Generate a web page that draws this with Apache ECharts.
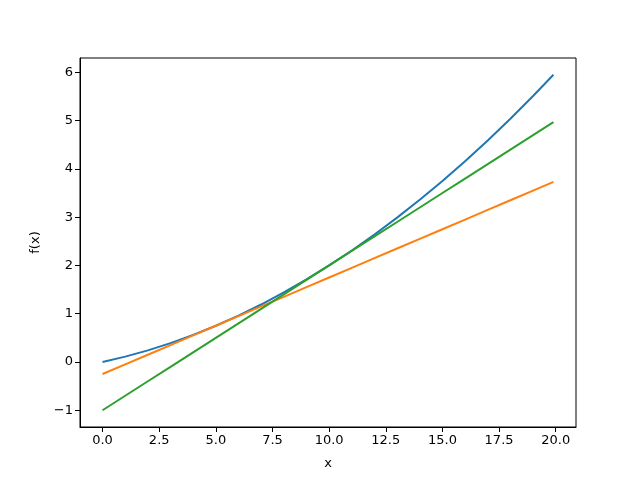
<!DOCTYPE html>
<html>
<head>
<meta charset="utf-8">
<script src="https://cdn.jsdelivr.net/npm/echarts@6/dist/echarts.min.js"></script>
<style>
  html, body { margin: 0; padding: 0; background: #fff; }
  #chart { width: 640px; height: 480px; }
</style>
</head>
<body>
<div id="chart"></div>
<script>
// values
var xs = [0, 1, 2, 3, 4, 5, 6, 7, 8, 9, 10, 11, 12, 13, 14, 15, 16, 17, 18, 19, 19.9];
var curve = [0, 0.11, 0.24, 0.39, 0.56, 0.75, 0.96, 1.19, 1.44, 1.71, 2.0, 2.31, 2.64, 2.99, 3.36, 3.75, 4.16, 4.59, 5.04, 5.51, 5.95];
var tangentAt5 = [-0.25, -0.05, 0.15, 0.35, 0.55, 0.75, 0.95, 1.15, 1.35, 1.55, 1.75, 1.95, 2.15, 2.35, 2.55, 2.75, 2.95, 3.15, 3.35, 3.55, 3.73];
var tangentAt10 = [-1, -0.7, -0.4, -0.1, 0.2, 0.5, 0.8, 1.1, 1.4, 1.7, 2.0, 2.3, 2.6, 2.9, 3.2, 3.5, 3.8, 4.1, 4.4, 4.7, 4.97];
var xTicks = [0, 2.5, 5, 7.5, 10, 12.5, 15, 17.5, 20];
var yTicks = [-1, 0, 1, 2, 3, 4, 5, 6];

function pairs(ys) {
    return xs.map(function (x, i) { return [x, ys[i]]; });
}

var chart = echarts.init(document.getElementById('chart'));
var font = 'DejaVu Sans';

function line(data, color) {
    return {
        type: 'line',
        data: pairs(data),
        showSymbol: false,
        smooth: false,
        lineStyle: { color: color, width: 2 },
        itemStyle: { color: color }
    };
}

var option = {
    animation: false,
    grid: {
        left: 80, right: 64, top: 58, bottom: 53,
        show: true, borderColor: '#000', borderWidth: 1
    },
    xAxis: {
        type: 'value',
        min: -0.995,
        max: 20.895,
        name: 'x',
        nameLocation: 'middle',
        nameGap: 30,
        nameTextStyle: { fontFamily: font, fontSize: 13, color: '#000' },
        splitLine: { show: false },
        axisLine: { show: true, onZero: false, lineStyle: { color: '#000' } },
        axisTick: { show: true, length: 5, customValues: xTicks, lineStyle: { color: '#000' } },
        axisLabel: {
            customValues: xTicks,
            fontFamily: font, fontSize: 13, color: '#000', margin: 7,
            formatter: function (v) { return v.toFixed(1); }
        }
    },
    yAxis: {
        type: 'value',
        min: -1.3475,
        max: 6.2975,
        name: 'f(x)',
        nameLocation: 'middle',
        nameGap: 38,
        nameTextStyle: { fontFamily: font, fontSize: 13, color: '#000' },
        splitLine: { show: false },
        axisLine: { show: true, onZero: false, lineStyle: { color: '#000' } },
        axisTick: { show: true, length: 5, customValues: yTicks, lineStyle: { color: '#000' } },
        axisLabel: {
            customValues: yTicks,
            fontFamily: font, fontSize: 13, color: '#000', margin: 7,
            formatter: function (v) { return v < 0 ? '\u2212' + Math.abs(v) : String(v); }
        }
    },
    series: [
        line(curve, '#1f77b4'),
        line(tangentAt5, '#ff7f0e'),
        line(tangentAt10, '#2ca02c')
    ]
};

chart.setOption(option);
</script>
</body>
</html>
